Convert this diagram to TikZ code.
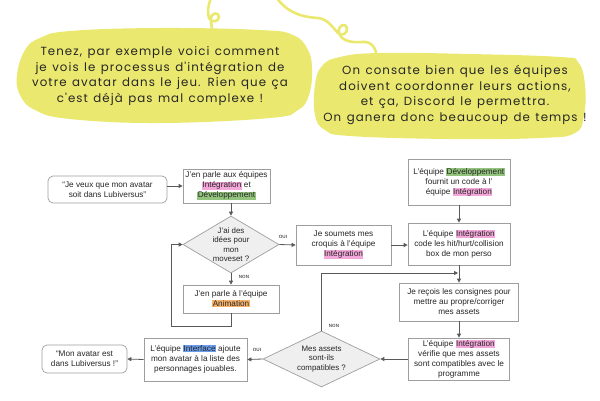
\documentclass[tikz,border=0pt]{standalone}
\usepackage{fontspec}
\setmainfont{Liberation Sans}
\newfontfamily\bubblefont[LetterSpace=9,WordSpace=1.3]{Poppins}
\usetikzlibrary{shapes.geometric,arrows.meta}
\definecolor{bubY}{HTML}{EAE86E}
\definecolor{boxG}{HTML}{9E9E9E}
\definecolor{arrG}{HTML}{595959}
\definecolor{diaF}{HTML}{EFEFEF}
\definecolor{hlPink}{HTML}{F4A7DA}
\definecolor{hlGreen}{HTML}{93C47D}
\definecolor{hlOrange}{HTML}{F6B26B}
\definecolor{hlBlue}{HTML}{6D9EEB}
\definecolor{txt}{HTML}{262626}
\newcommand{\hlt}[2]{{\setlength{\fboxsep}{0.4pt}\colorbox{#1}{#2}}}
\tikzset{
  flowbox/.style={draw=boxG, line width=0.7pt, fill=white, align=center, inner sep=0pt,
    font=\fontsize{8.2}{10}\selectfont, text=txt},
  roundbox/.style={flowbox, rounded corners=5pt},
  decision/.style={diamond, draw=boxG, fill=diaF, line width=0.7pt, inner sep=0pt},
  dtext/.style={align=center, inner sep=0pt, font=\fontsize{7.9}{9.4}\selectfont, text=txt},
  arr/.style={draw=arrG, line width=0.8pt, -{Triangle[length=4pt,width=4pt]}},
  lab/.style={font=\fontsize{4.6}{5}\selectfont\bfseries, text=arrG, inner sep=0pt},
  bubtext/.style={font=\bubblefont\fontsize{11.8}{15.4}\selectfont, align=center, inner sep=0pt, text=txt},
  squig/.style={draw=bubY, line width=2.6pt, line cap=round}
}
\begin{document}
\begin{tikzpicture}[x=1pt,y=-1pt]
\useasboundingbox (0,0) rectangle (600,400);
% bubbles
\fill[bubY] plot[smooth cycle, tension=0.7] coordinates {(17,75) (25,50) (40,38) (70,31) (160,28) (260,30) (293,35) (308,50) (312,70) (309,95) (298,110) (270,118) (160,123) (70,119) (35,110) (20,95)};
\fill[bubY] plot[smooth cycle, tension=0.7] coordinates {(315,85) (322,66) (340,57) (380,53) (470,54) (560,57) (578,62) (585,85) (584,115) (575,133) (540,138) (450,139) (350,136) (325,130) (315,115)};
\draw[squig] (211,-2) .. controls (208,6) and (207,12) .. (209,18) .. controls (211,23) and (219,22) .. (219,17) .. controls (219,12) and (211,12) .. (211,19) .. controls (211,24) and (212,27) .. (212,32);
\draw[squig] (276,-3) .. controls (285,10) and (298,17) .. (318,18) .. controls (328,19) and (333,28) .. (338,33) .. controls (342,37) and (348,33) .. (347,28) .. controls (346,23) and (338,24) .. (339,32) .. controls (340,40) and (350,43) .. (362,42) .. controls (372,41) and (376,48) .. (377,58);
\node[bubtext] (t1) at (160,76) {Tenez, par exemple voici comment\\je vois le processus d'intégration de\\votre avatar dans le jeu. Rien que ça\\c'est déjà pas mal complexe !};
\node[bubtext] (t2) at (455,95) {On consate bien que les équipes\\doivent coordonner leurs actions,\\et ça, Discord le permettra.\\On ganera donc beaucoup de temps !};
% flowchart
\node[roundbox, minimum width=119, minimum height=27] (start) at (107.5,189.5) {“Je veux que mon avatar\\soit dans Lubiversus”};
\node[flowbox, minimum width=87, minimum height=34] (A) at (226.5,186) {J'en parle aux équipes\\\hlt{hlPink}{Intégration} et\\\hlt{hlGreen}{Développement}};
\node[decision, minimum width=96, minimum height=57] (d1) at (231,244.5) {};
\node[dtext] (d1t) at (d1) {J'ai des\\idées pour\\mon\\moveset ?};
\node[flowbox, minimum width=96, minimum height=28] (anim) at (231,299) {J'en parle à l'équipe\\\hlt{hlOrange}{Animation}};
\node[flowbox, minimum width=95, minimum height=40] (B) at (343.5,245) {Je soumets mes\\croquis à l'équipe\\\hlt{hlPink}{Intégration}};
\node[flowbox, minimum width=102, minimum height=46] (C) at (459,182) {L'équipe \hlt{hlGreen}{Développement}\\fournit un code à l'\\équipe \hlt{hlPink}{Intégration}};
\node[flowbox, minimum width=102, minimum height=42] (E) at (459,244) {L'équipe \hlt{hlPink}{Intégration}\\code les hit/hurt/collision\\box de mon perso};
\node[flowbox, minimum width=119, minimum height=38] (F) at (459,302) {Je reçois les consignes pour\\mettre au propre/corriger\\mes assets};
\node[flowbox, minimum width=101, minimum height=42] (G) at (459,359) {L'équipe \hlt{hlPink}{Intégration}\\vérifie que mes assets\\sont compatibles avec le\\programme};
\node[decision, minimum width=117, minimum height=56] (d2) at (321.5,359) {};
\node[dtext] (d2t) at (d2) {Mes assets\\sont-ils\\compatibles ?};
\node[flowbox, minimum width=103, minimum height=43] (H) at (195.5,359.5) {L'équipe \hlt{hlBlue}{Interface} ajoute\\mon avatar à la liste des\\personnages jouables.};
\node[roundbox, minimum width=85, minimum height=28] (end) at (84.5,359) {“Mon avatar est\\dans Lubiversus !”};
% labels
\node[lab] (l1) at (283,237) {OUI};
\node[lab] (l2) at (244,277) {NON};
\node[lab] (l3) at (334,326) {NON};
\node[lab] (l4) at (257,350) {OUI};
% connectors
\coordinate (loopA) at (171,326);
\coordinate (merge) at (458,273);
\draw[arr] (start.east |- A.west) -- (A.west);
\draw[arr] (d1.north |- A.south) -- (d1.north);
\draw[arr] (d1.east) -- (B.west);
\draw[arr] (d1.south) -- (anim.north);
\draw[arr] (anim.south) |- (loopA) |- (d1.west);
\draw[arr] (B.east) -- (B.east -| E.west);
\draw[arr] (C.south) -- (E.north);
\draw[arr] (E.south) -- (F.north);
\draw[arr] (d2.north) |- (merge);
\draw[arr] (F.south) -- (G.north);
\draw[arr] (G.west) -- (d2.east);
\draw[arr] (d2.west) -- (H.east);
\draw[arr] (H.west) -- (end.east);
\end{tikzpicture}
\end{document}
